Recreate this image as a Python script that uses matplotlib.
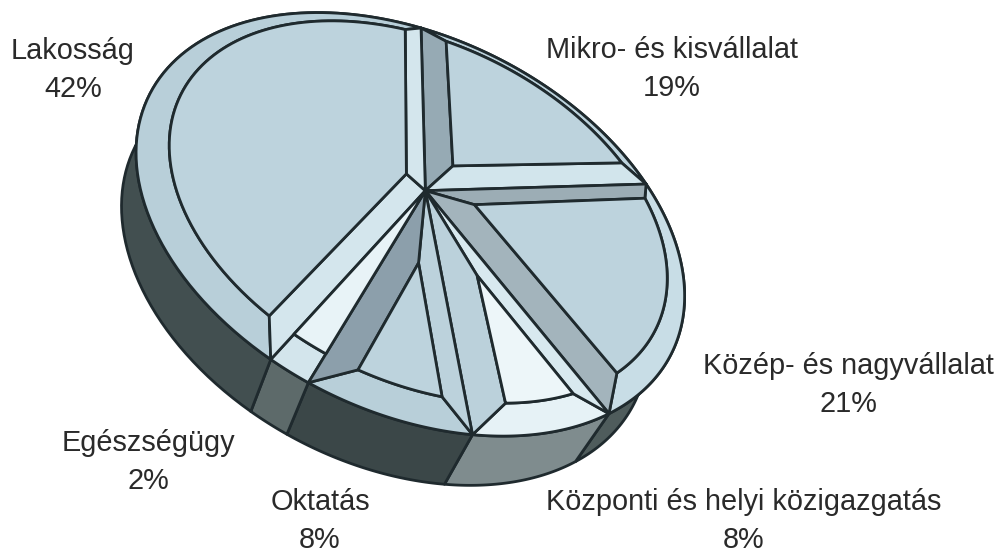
import numpy as np
import matplotlib
matplotlib.use('Agg')
import matplotlib.pyplot as plt
from matplotlib.patches import Polygon

plt.rcParams['font.family'] = ['Liberation Sans', 'DejaVu Sans']

# clockwise from the top of the pie
names = ['Mikro- és kisvállalat', 'Közép- és nagyvállalat', 'Központi és helyi közigazgatás',
         'Oktatás', 'Egészségügy', 'Lakosság']
shares = [19, 21, 8, 8, 2, 42]

label_x = [672, 848, 744, 320, 148, 73]
label_y = [69, 385, 521, 521, 462, 70]

face_cols = ['#bdd3dd', '#bdd3dd', '#edf6f9', '#bdd3dd', '#e8f3f7', '#bdd3dd']
side0_cols = ['#96aab4', '#9cadb5', '#d8e9ef', '#bcd2dc', '#e8f3f7', '#d4e6ed']
side1_cols = ['#d2e5ec', '#a3b4bc', '#bbd1db', '#8c9fab', '#e8f3f7', '#d4e6ed']
rim_cols = ['#bdd3dd', '#c8dde6', '#e6f2f6', '#b8cfd9', '#d3e5ec', '#b8cfd9']
wall_cols = ['#4f5c5c', '#4f5c5c', '#7f8c8e', '#3b4748', '#5d6a6a', '#424f50']
insets = [0.09, 0.105, 0.105, 0.10, 0.0, 0.09]

edge = '#1f2a2e'
lw = 2.0

# where the pie centre and the slice borders land on the picture
anchors = np.array([[427, 195], [421, 27], [645, 183], [610, 413],
                    [473, 437], [305, 378], [272, 360]], dtype=float)
inner_r = 0.92
inner_shift = np.array([0.02, 0.04])

edges = np.cumsum([0] + shares) / 100 * 2 * np.pi


def disk(a, r=1.0):
    return np.column_stack([r * np.sin(a), r * np.cos(a)])


def fit_homography(src, dst):
    rows = []
    for (x, y), (u, v) in zip(src, dst):
        rows.append([x, y, 1, 0, 0, 0, -u * x, -u * y, -u])
        rows.append([0, 0, 0, x, y, 1, -v * x, -v * y, -v])
    return np.linalg.svd(np.array(rows))[2][-1].reshape(3, 3)


src = np.vstack([[0, 0], disk(edges[:-1])])
H = fit_homography(src, anchors)


def proj(p):
    p = np.atleast_2d(p)
    q = np.column_stack([p, np.ones(len(p))]) @ H.T
    return q[:, :2] / q[:, 2:]


def lower(top):
    # bottom edge of the wall, the drop grows a little to the right
    drop = np.column_stack([-20 - (top[:, 0] - 272) * 0.04, 52 - (top[:, 0] - 272) * 0.012])
    return top + drop


def ray_circle(a, d):
    # ray from a along d, hits the raised circle
    f = a - inner_shift
    b = f @ d
    c = f @ f - inner_r ** 2
    return a + d * (-b + np.sqrt(b * b - c))


fig = plt.figure(figsize=(9.96, 5.53), dpi=100)
ax = fig.add_axes([0, 0, 1, 1])
ax.set_xlim(0, 996)
ax.set_ylim(553, 0)
ax.axis('off')


def poly(pts, col, z, width=lw):
    ax.add_patch(Polygon(pts, closed=True, fc=col, ec=edge, lw=width, joinstyle='round', zorder=z))


# side wall first, the top covers what is hidden
for i in range(len(shares)):
    a = np.linspace(edges[i], edges[i + 1], 80)
    top = proj(disk(a))
    poly(np.vstack([top, lower(top)[::-1]]), wall_cols[i], 1)

for i in range(len(shares)):
    a0, a1 = edges[i], edges[i + 1]
    half = (a1 - a0) / 2
    d0 = disk(np.array([a0]))[0]
    d1 = disk(np.array([a1]))[0]
    if insets[i] > 0:
        bis = disk(np.array([a0 + half]))[0]
        apex = inner_shift + bis * insets[i] / np.sin(half)
    else:
        apex = np.zeros(2)
    c0 = ray_circle(apex, d0)
    c1 = ray_circle(apex, d1)
    t0 = np.arctan2(*(c0 - inner_shift))
    t1 = np.arctan2(*(c1 - inner_shift))
    if t1 < t0:
        t1 += 2 * np.pi
    arc_in = disk(np.linspace(t0, t1, 80), inner_r) + inner_shift
    arc_out = disk(np.linspace(a0, a1, 80))

    poly(proj(np.vstack([arc_out, arc_in[::-1]])), rim_cols[i], 2)
    if insets[i] > 0:
        poly(proj(np.vstack([[0, 0], d0, c0, apex])), side0_cols[i], 3)
        poly(proj(np.vstack([[0, 0], d1, c1, apex])), side1_cols[i], 3)
    poly(proj(np.vstack([apex, arc_in])), face_cols[i], 4)

for i, name in enumerate(names):
    ax.text(label_x[i], label_y[i], f'{name}\n{shares[i]}%', ha='center', va='center',
            fontsize=20.8, color='#2a2a2a', linespacing=1.42, zorder=5)

fig.savefig('out.png', dpi=100)
